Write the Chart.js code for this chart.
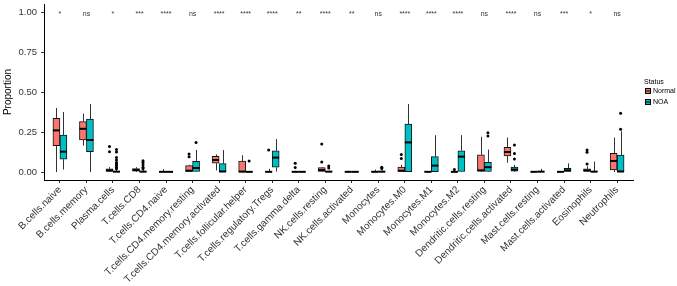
<!DOCTYPE html>
<html lang="en">
<head>
<meta charset="UTF-8">
<title>Immune cell proportions: Normal vs NOA</title>
<script src="https://cdn.jsdelivr.net/npm/chart.js"></script>
<style>
  html, body { margin: 0; padding: 0; background: #fff; }
</style>
</head>
<body>
<canvas id="boxChart" width="677" height="286"></canvas>
<script>
const cells = ['B.cells.naive', 'B.cells.memory', 'Plasma.cells', 'T.cells.CD8', 'T.cells.CD4.naive',
  'T.cells.CD4.memory.resting', 'T.cells.CD4.memory.activated', 'T.cells.follicular.helper',
  'T.cells.regulatory.Tregs', 'T.cells.gamma.delta', 'NK.cells.resting', 'NK.cells.activated',
  'Monocytes', 'Monocytes.M0', 'Monocytes.M1', 'Monocytes.M2', 'Dendritic.cells.resting',
  'Dendritic.cells.activated', 'Mast.cells.resting', 'Mast.cells.activated', 'Eosinophils', 'Neutrophils'];
const signif = ['*', 'ns', '*', '***', '****', 'ns', '****', '****', '****', '**', '****', '**',
  'ns', '****', '****', '****', 'ns', '****', 'ns', '***', '*', 'ns'];
const yTicks = [0, 0.25, 0.5, 0.75, 1];

// Normal group: whisker low, Q1, median, Q3, whisker high, outliers
const normalLo  = [0.0, 0.165, 0.0, 0.0, 0.0, 0.0, 0.01, 0.0, 0.0, 0.0, 0.0, 0.0, 0.0, 0.0, 0.0, 0.0, 0.0, 0.058, 0.0, 0.0, 0.0, 0.0];
const normalQ1  = [0.165, 0.20, 0.003, 0.005, 0.0, 0.0, 0.055, 0.0, 0.0, 0.0, 0.003, 0.0, 0.0, 0.003, 0.0, 0.0, 0.005, 0.10, 0.0, 0.0, 0.003, 0.013];
const normalMed = [0.26, 0.27, 0.01, 0.012, 0.001, 0.008, 0.075, 0.002, 0.001, 0.001, 0.012, 0.001, 0.001, 0.008, 0.001, 0.001, 0.01, 0.125, 0.001, 0.001, 0.01, 0.069];
const normalQ3  = [0.335, 0.315, 0.02, 0.022, 0.003, 0.04, 0.098, 0.068, 0.004, 0.003, 0.027, 0.003, 0.005, 0.03, 0.003, 0.004, 0.108, 0.154, 0.003, 0.003, 0.02, 0.117];
const normalHi  = [0.40, 0.365, 0.03, 0.03, 0.018, 0.045, 0.11, 0.105, 0.02, 0.008, 0.03, 0.008, 0.015, 0.045, 0.004, 0.01, 0.22, 0.215, 0.006, 0.004, 0.035, 0.215];
const normalOut = [[], [], [0.127, 0.16], [], [], [0.096, 0.113], [], [], [0.1375], [0.028, 0.055],
  [0.062, 0.175], [], [], [0.085, 0.11], [], [0.016], [], [], [], [], [0.05, 0.123, 0.1375], []];

// NOA group
const noaLo  = [0.015, 0.0, 0.0, 0.0, 0.0, 0.0, 0.0, 0.0, 0.003, 0.0, 0.0, 0.0, 0.0, 0.0, 0.0, 0.0, 0.0, 0.0, 0.0, 0.0, 0.0, 0.0];
const noaQ1  = [0.08, 0.127, 0.0, 0.0, 0.0, 0.003, 0.0, 0.0, 0.03, 0.0, 0.0, 0.0, 0.0, 0.002, 0.002, 0.003, 0.003, 0.005, 0.0, 0.003, 0.0, 0.0];
const noaMed = [0.127, 0.20, 0.002, 0.002, 0.001, 0.025, 0.003, 0.001, 0.09, 0.001, 0.002, 0.001, 0.002, 0.185, 0.04, 0.096, 0.03, 0.015, 0.002, 0.01, 0.002, 0.003];
const noaQ3  = [0.23, 0.33, 0.006, 0.005, 0.003, 0.067, 0.052, 0.004, 0.133, 0.003, 0.005, 0.003, 0.005, 0.30, 0.096, 0.133, 0.06, 0.03, 0.005, 0.023, 0.005, 0.106];
const noaHi  = [0.375, 0.425, 0.012, 0.012, 0.004, 0.1375, 0.137, 0.006, 0.206, 0.004, 0.008, 0.004, 0.01, 0.425, 0.23, 0.23, 0.14, 0.045, 0.02, 0.054, 0.065, 0.255];
const noaOut = [[], [], [0.02, 0.03, 0.04, 0.05, 0.06, 0.075, 0.09, 0.125, 0.14], [0.02, 0.03, 0.045, 0.06, 0.07],
  [], [0.185], [], [0.068], [], [], [0.025, 0.037], [], [0.022, 0.03], [], [], [], [0.225, 0.245],
  [0.081, 0.115, 0.168], [], [], [], [0.267, 0.367]];

const groups = [
  { name: 'Normal', color: '#F8766D', lo: normalLo, med: normalMed, hi: normalHi, out: normalOut, q1: normalQ1, q3: normalQ3 },
  { name: 'NOA', color: '#00BFC4', lo: noaLo, med: noaMed, hi: noaHi, out: noaOut, q1: noaQ1, q3: noaQ3 }
];

const FONT = '"Liberation Sans", Arial, Helvetica, sans-serif';

// whiskers behind the boxes, medians/outliers/labels on top
const boxParts = {
  id: 'boxParts',
  beforeDatasetsDraw(chart) {
    const ctx = chart.ctx, ys = chart.scales.y;
    ctx.save();
    ctx.strokeStyle = '#333';
    ctx.lineWidth = 1;
    groups.forEach((g, d) => {
      chart.getDatasetMeta(d).data.forEach((bar, i) => {
        const x = Math.round(bar.x) + 0.5;
        ctx.beginPath();
        ctx.moveTo(x, ys.getPixelForValue(g.hi[i]));
        ctx.lineTo(x, ys.getPixelForValue(g.q3[i]));
        ctx.moveTo(x, ys.getPixelForValue(g.q1[i]));
        ctx.lineTo(x, ys.getPixelForValue(g.lo[i]));
        ctx.stroke();
      });
    });
    ctx.restore();
  },
  afterDatasetsDraw(chart) {
    const ctx = chart.ctx, ys = chart.scales.y;
    ctx.save();
    groups.forEach((g, d) => {
      chart.getDatasetMeta(d).data.forEach((bar, i) => {
        const half = bar.width / 2;
        ctx.strokeStyle = '#000';
        ctx.lineWidth = 2;
        const ym = ys.getPixelForValue(g.med[i]);
        ctx.beginPath();
        ctx.moveTo(bar.x - half, ym);
        ctx.lineTo(bar.x + half, ym);
        ctx.stroke();
        ctx.fillStyle = '#000';
        g.out[i].forEach(v => {
          ctx.beginPath();
          ctx.arc(bar.x, ys.getPixelForValue(v), 1.5, 0, Math.PI * 2);
          ctx.fill();
        });
      });
    });
    // significance labels
    const xs = chart.scales.x;
    ctx.fillStyle = '#333';
    ctx.font = '7px ' + FONT;
    ctx.textAlign = 'center';
    ctx.textBaseline = 'alphabetic';
    signif.forEach((s, i) => {
      ctx.fillText(s, xs.getPixelForValue(i), ys.getPixelForValue(1) + 4);
    });
    ctx.restore();
  },
  afterDraw(chart) {
    const ctx = chart.ctx;
    const lx = chart.chartArea.right + 11;
    ctx.save();
    ctx.fillStyle = '#000';
    ctx.font = '7px ' + FONT;
    ctx.textAlign = 'left';
    ctx.textBaseline = 'middle';
    ctx.fillText('Status', lx, 82);
    groups.forEach((g, d) => {
      const top = 88 + d * 11;
      ctx.fillStyle = g.color;
      ctx.fillRect(lx + 1, top, 6, 6);
      ctx.strokeStyle = '#000';
      ctx.lineWidth = 1;
      ctx.strokeRect(lx + 1.5, top + 0.5, 5, 5);
      ctx.beginPath();
      ctx.moveTo(lx + 1, top + 3);
      ctx.lineTo(lx + 7, top + 3);
      ctx.stroke();
      ctx.fillStyle = '#000';
      ctx.fillText(g.name, lx + 9, top + 3.5);
    });
    ctx.restore();
  }
};

new Chart(document.getElementById('boxChart'), {
  type: 'bar',
  data: {
    datasets: groups.map(g => ({
      label: g.name,
      data: cells.map((c, i) => ({ x: i, y: [g.q1[i], g.q3[i]] })),
      backgroundColor: g.color,
      borderColor: '#111',
      borderWidth: 1,
      borderSkipped: false,
      barThickness: 7
    }))
  },
  options: {
    responsive: false,
    animation: false,
    devicePixelRatio: 1,
    layout: { padding: { top: 4, right: 44, bottom: 0, left: 0 } },
    plugins: { legend: { display: false }, tooltip: { enabled: false } },
    scales: {
      x: {
        type: 'linear',
        min: -0.6,
        max: 21.6,
        offset: false,
        afterBuildTicks: s => { s.ticks = cells.map((c, i) => ({ value: i })); },
        afterFit: s => { s.height = 106; },
        grid: { offset: false, drawOnChartArea: false, drawTicks: true, tickLength: 3, color: '#333' },
        border: { display: true, color: '#000', width: 1 },
        ticks: {
          autoSkip: false, minRotation: 45, maxRotation: 45, padding: 1,
          color: '#333', font: { family: FONT, size: 10 },
          callback: v => cells[Math.round(v)]
        }
      },
      y: {
        min: -0.05,
        max: 1.05,
        afterBuildTicks: s => { s.ticks = yTicks.map(v => ({ value: v })); },
        afterFit: s => { s.width = 44; s.paddingTop = 0; s.paddingBottom = 0; },
        grid: { drawOnChartArea: false, drawTicks: true, tickLength: 3, color: '#333' },
        border: { display: true, color: '#000', width: 1 },
        ticks: { padding: 4, color: '#333', font: { family: FONT, size: 9.5 }, callback: v => v.toFixed(2) },
        title: { display: true, text: 'Proportion', color: '#000', font: { family: FONT, size: 10 }, padding: { top: 2, bottom: 0 } }
      }
    }
  },
  plugins: [boxParts]
});
</script>
</body>
</html>
